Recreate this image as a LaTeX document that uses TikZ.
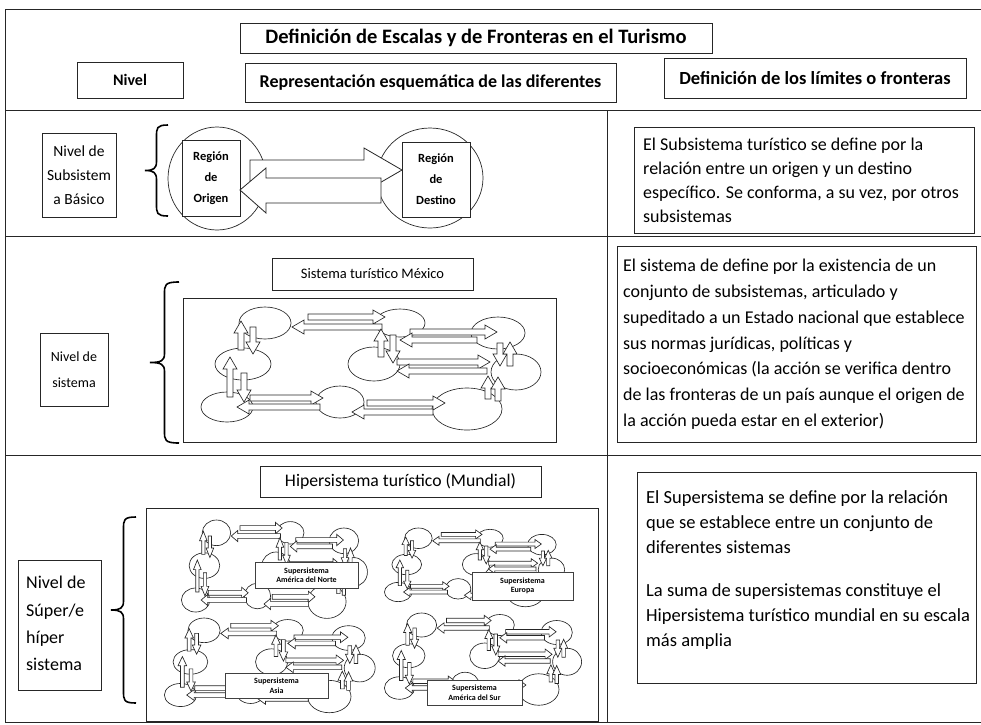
\documentclass[tikz,border=0pt]{standalone}
\usepackage{fontspec}
\setmainfont{Carlito}
\begin{document}
\begin{tikzpicture}[x=1pt,y=-1pt,
  box/.style={draw=black!85, line width=0.8pt, inner sep=0pt, align=center},
  txt/.style={inner sep=0pt, align=left, anchor=north west},
  arr/.style={draw=black!85, fill=white, line width=0.65pt, line join=miter},
  ell/.style={draw=black!85, line width=0.65pt},
  brace/.style={draw=black, line width=1.6pt},
  frame/.style={draw=black!85, line width=0.9pt},
  lbl/.style={draw=black!75, fill=white, line width=0.6pt, inner sep=0pt, align=center, font=\bfseries\fontsize{8}{9.5}\selectfont}]
\useasboundingbox (0,0) rectangle (981,724);
\def\aw{3}\def\ahw{7}\def\ahl{12}
\newcommand\myHA[3]{\pgfmathsetmacro\hb{#3-\ahl*sign(#3-#2)}%
  \draw[arr] (#2,#1-\aw) -- (\hb,#1-\aw) -- (\hb,#1-\ahw) -- (#3,#1) -- (\hb,#1+\ahw) -- (\hb,#1+\aw) -- (#2,#1+\aw) -- cycle;}
\newcommand\myVA[3]{\pgfmathsetmacro\hb{#3-\ahl*sign(#3-#2)}%
  \draw[arr] (#1-\aw,#2) -- (#1-\aw,\hb) -- (#1-\ahw,\hb) -- (#1,#3) -- (#1+\ahw,\hb) -- (#1+\aw,\hb) -- (#1+\aw,#2) -- cycle;}
\newcommand\mybrace[4]{\pgfmathsetmacro\bm{(#3+#4)/2}\pgfmathsetmacro\bs{(#1+#2)/2}%
  \draw[brace] (#2,#3) .. controls (\bs,#3) and (\bs,#3+3) .. (\bs,#3+12) -- (\bs,\bm-9) .. controls (\bs,\bm-2) and (\bs-3,\bm) .. (#1,\bm) .. controls (\bs-3,\bm) and (\bs,\bm+2) .. (\bs,\bm+9) -- (\bs,#4-12) .. controls (\bs,#4-3) and (\bs,#4) .. (#2,#4);}
\newcommand\mexnet{%
  \foreach \cx/\cy/\rx/\ry in {265/323/26/16,400/323/25/14,498/333/27/16,243/364/28/16,374/364/26/17,516/372/25/18,227/407/26/15,340/402/24/16,467/409/35/21}
    {\draw[ell] (\cx,\cy) ellipse [x radius=\rx, y radius=\ry];}
  \myHA{317}{308}{385}\myHA{327}{382}{292}
  \myHA{332}{410}{497}\myHA{340}{477}{400}
  \myHA{362}{397}{490}\myHA{371}{487}{397}
  \myHA{398}{250}{323}\myHA{407}{320}{237}
  \myHA{403}{367}{445}\myHA{412}{433}{352}
  \myVA{241}{350}{321}\myVA{253}{327}{354}
  \myVA{230}{397}{357}\myVA{244}{373}{402}
  \myVA{381}{357}{329}\myVA{393}{335}{363}
  \myVA{500}{343}{366}\myVA{510}{366}{342}
  \myVA{488}{399}{376}\myVA{498}{401}{377}}
% frame
\draw[frame] (981,9) -- (5,9) -- (5,722) -- (981,722);
\draw[frame] (5,110) -- (981,110);
\draw[frame] (5,236) -- (981,236);
\draw[frame] (5,455) -- (981,455);
\draw[frame] (607,110) -- (607,722);
% header
\node[box, minimum width=472, minimum height=30, font=\bfseries\fontsize{20.5}{24}\selectfont] (title) at (476,38) {Definición de Escalas y de Fronteras en el Turismo};
\node[box, minimum width=106, minimum height=36, font=\bfseries\fontsize{16}{19}\selectfont] (nivel) at (130,80) {Nivel};
\node[box, minimum width=371, minimum height=39, font=\bfseries\fontsize{18}{21}\selectfont] (repr) at (430.5,82.5) {Representación esquemática de las diferentes};
\node[box, minimum width=302, minimum height=40, font=\bfseries\fontsize{18.5}{22}\selectfont] (deflim) at (815,78) {Definición de los límites o fronteras};
% row 1
\node[box, minimum width=74, minimum height=84, font=\fontsize{15.5}{24}\selectfont] (n1) at (79,175) {Nivel de\\Subsistem\\a Básico};
\mybrace{145}{168}{125}{216}
\draw[ell, line width=0.7pt] (217,178.5) ellipse [x radius=49, y radius=51.5];
\draw[ell, line width=0.7pt] (430,178) ellipse [x radius=53, y radius=50];
\node[box, fill=white, minimum width=58, minimum height=76, font=\bfseries\fontsize{12.5}{21}\selectfont] (orig) at (211,178.5) {Región\\de\\Origen};
\node[box, fill=white, minimum width=68, minimum height=75, font=\bfseries\fontsize{12.5}{21}\selectfont] (dest) at (436,179.5) {Región\\de\\Destino};
\draw[arr, line width=0.8pt] (250,160) -- (364,160) -- (364,148) -- (402,170) -- (364,192) -- (364,181) -- (250,181) -- cycle;
\draw[arr, line width=0.8pt] (381,178) -- (266,178) -- (266,168) -- (240,190) -- (266,213) -- (266,203) -- (381,203) -- cycle;
\node[box, minimum width=340, minimum height=106] (d1) at (804,180) {};
\node[txt, font=\fontsize{18}{24}\selectfont] (t1) at (643,138) {El Subsistema turístico se define por la\\relación entre un origen y un destino\\específico. Se conforma, a su vez, por otros\\subsistemas};
% row 2
\node[box, minimum width=68, minimum height=73, font=\fontsize{14}{26}\selectfont] (n2) at (74,369.5) {Nivel de\\sistema};
\mybrace{150}{179}{282}{443}
\node[box, minimum width=201, minimum height=32, font=\fontsize{14.5}{17}\selectfont] (mex) at (372.5,274) {Sistema turístico México};
\node[box, minimum width=373, minimum height=144] (mexframe) at (369.5,370) {};
\mexnet
\node[box, minimum width=359, minimum height=196] (d2) at (796.5,344) {};
\node[txt, font=\fontsize{18}{25.8}\selectfont] (t2) at (623,259) {El sistema de define por la existencia de un\\conjunto de subsistemas, articulado y\\supeditado a un Estado nacional que establece\\sus normas jurídicas, políticas y\\socioeconómicas (la acción se verifica dentro\\de las fronteras de un país aunque el origen de\\la acción pueda estar en el exterior)};
% row 3
\node[box, minimum width=83, minimum height=130] (n3) at (59.5,625) {};
\node[txt, font=\fontsize{18}{27.3}\selectfont] (n3t) at (26,576) {Nivel de\\Súper/e\\híper\\sistema};
\mybrace{111}{136}{517}{703}
\node[box, minimum width=281, minimum height=31, font=\fontsize{17.7}{20}\selectfont] (hip) at (400.5,481.5) {Hipersistema turístico (Mundial)};
\node[box, minimum width=452, minimum height=213] (hipframe) at (372,614.5) {};
\begin{scope}[shift={(182,520)}, xscale=0.547, yscale=0.80, shift={(-202,-307)}]\mexnet\end{scope}
\begin{scope}[shift={(385,528)}, xscale=0.53, yscale=0.64, shift={(-202,-307)}]\mexnet\end{scope}
\begin{scope}[shift={(165,618)}, xscale=0.62, yscale=0.77, shift={(-202,-307)}]\mexnet\end{scope}
\begin{scope}[shift={(385,613)}, xscale=0.58, yscale=0.75, shift={(-202,-307)}]\mexnet\end{scope}
\node[lbl, minimum width=103, minimum height=26] (ln) at (306.5,575) {Supersistema\\América del Norte};
\node[lbl, minimum width=101, minimum height=28] (le) at (522.5,586) {Supersistema\\Europa};
\node[lbl, minimum width=103, minimum height=25] (la) at (276.5,685.5) {Supersistema\\Asia};
\node[lbl, minimum width=95, minimum height=25] (ls) at (474.5,692.5) {Supersistema\\América del Sur};
\node[box, minimum width=339, minimum height=211] (d3) at (806.5,577.5) {};
\node[txt, font=\fontsize{18.5}{25}\selectfont] (t3) at (646,490) {El Supersistema se define por la relación\\que se establece entre un conjunto de\\diferentes sistemas\\[18pt]La suma de supersistemas constituye el\\Hipersistema turístico mundial en su escala\\más amplia};
\end{tikzpicture}
\end{document}
